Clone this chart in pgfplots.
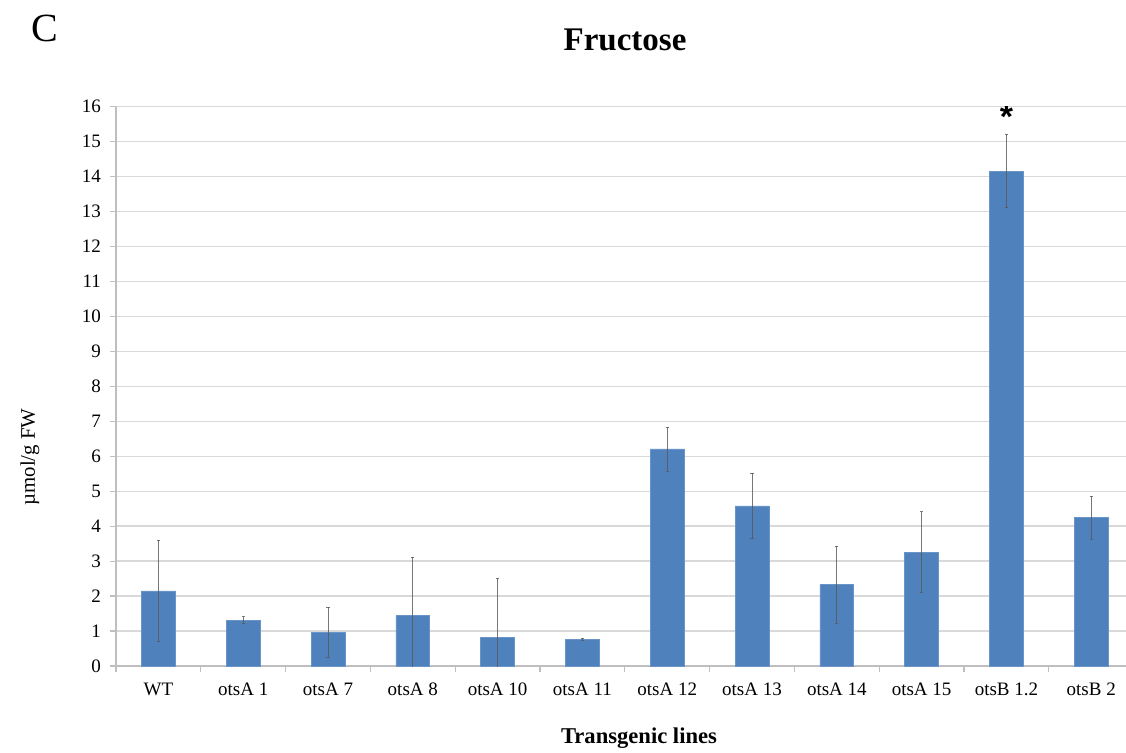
\documentclass[border=0pt]{standalone}
\usepackage{pgfplots}
\pgfplotsset{compat=1.18}
\usepackage{fontspec}
\setmainfont{Liberation Serif}
\newfontfamily\starfont{Liberation Sans}

\definecolor{barblue}{HTML}{4F81BD}
\definecolor{gridgray}{HTML}{D9D9D9}
\definecolor{axisgray}{HTML}{BFBFBF}

\begin{document}
\begin{tikzpicture}
\path[use as bounding box] (0pt,0pt) rectangle (563pt,376pt);
\begin{axis}[
  at={(58pt,43pt)}, anchor=south west,
  scale only axis, width=505pt, height=279.65pt,
  xmin=-0.5, xmax=11.41, ymin=0, ymax=16,
  axis x line*=bottom, axis y line*=left,
  axis line style={axisgray, line width=0.6pt},
  ytick={0,...,16},
  ymajorgrids, grid style={gridgray, line width=0.7pt},
  xtick={0,...,11},
  xticklabels={WT, otsA 1, otsA 7, otsA 8, otsA 10, otsA 11, otsA 12, otsA 13, otsA 14, otsA 15, otsB 1.2, otsB 2},
  minor xtick={-0.5,0.5,...,11.5},
  tick align=outside,
  major tick length=3pt, minor tick length=3pt,
  major x tick style={draw=none},
  minor x tick style={axisgray, line width=0.6pt},
  y tick style={axisgray, line width=0.6pt},
  tick label style={font=\fontsize{9.5}{11}\selectfont},
  /pgf/number format/assume math mode=true,
  xticklabel style={yshift=-2pt},
  yticklabel style={xshift=-1pt},
  clip=true,
]
\addplot[ybar, bar width=0.4, fill=barblue, draw=barblue!85!white, line width=0.3pt,
  error bars/.cd, y dir=both, y explicit,
  error bar style={black!65, line width=0.45pt, opacity=0.8},
  error mark options={rotate=90, mark size=0.8pt, black!65}]
  coordinates {
    (0,2.15)  +- (0,1.45)
    (1,1.31)  +- (0,0.10)
    (2,0.97)  +- (0,0.72)
    (3,1.45)  +- (0,1.66)
    (4,0.82)  +- (0,1.69)
    (5,0.76)  +- (0,0.03)
    (6,6.21)  +- (0,0.63)
    (7,4.58)  +- (0,0.93)
    (8,2.33)  +- (0,1.10)
    (9,3.26)  +- (0,1.15)
    (10,14.16) +- (0,1.05)
    (11,4.24) +- (0,0.62)
  };
% significance mark above otsB 1.2
\node[font=\starfont\bfseries\fontsize{17}{17}\selectfont, inner sep=0pt, anchor=north]
  at (axis cs:10,16.05) {*};
\end{axis}
\node[font=\fontsize{20}{22}\selectfont] at (22.5pt,362pt) {C};
\node[font=\bfseries\fontsize{16.5}{18}\selectfont] at (312.5pt,356pt) {Fructose};
\node[font=\fontsize{10.4}{12}\selectfont, rotate=90] at (15pt,147.5pt) {µmol/g FW};
\node[font=\bfseries\fontsize{11.3}{13}\selectfont] at (319.5pt,7pt) {Transgenic lines};
\end{tikzpicture}
\end{document}
